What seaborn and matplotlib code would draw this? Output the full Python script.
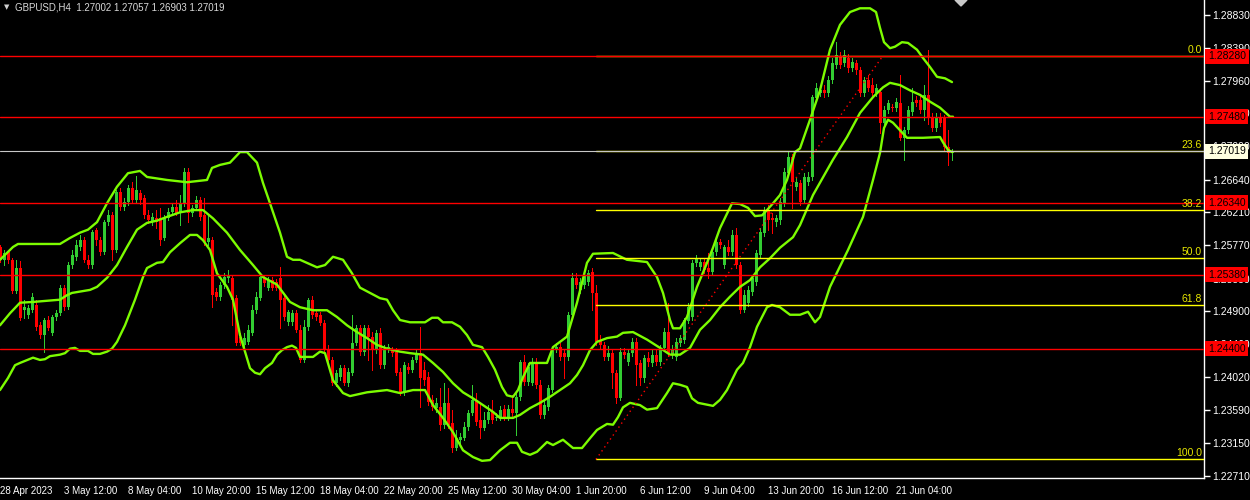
import numpy as np
import matplotlib
matplotlib.use("Agg")
import matplotlib.pyplot as plt
import matplotlib.transforms as mtransforms
from matplotlib.patches import Polygon
import seaborn as sns

# GBPUSD H4 candles (bar 0 = 28 Apr 20:00)
opens = [1.2575, 1.2558, 1.2568, 1.2558, 1.2517, 1.2547, 1.2491, 1.2485, 1.2491, 1.2498,
         1.2471, 1.2458, 1.2478, 1.2461, 1.2482, 1.2487, 1.2521, 1.2495, 1.2551, 1.2562,
         1.2575, 1.2584, 1.2558, 1.2551, 1.2598, 1.2584, 1.2568, 1.2608, 1.2617, 1.2571,
         1.2648, 1.2628, 1.2635, 1.2653, 1.2637, 1.2647, 1.2640, 1.2617, 1.2608, 1.2613,
         1.2613, 1.2587, 1.2613, 1.2621, 1.2628, 1.2620, 1.2633, 1.2675, 1.2620, 1.2627,
         1.2637, 1.2617, 1.2582, 1.2584, 1.2515, 1.2509, 1.2525, 1.2534, 1.2534, 1.2507,
         1.2456, 1.2445, 1.2449, 1.2461, 1.2491, 1.2507, 1.2534, 1.2521, 1.2531, 1.2529,
         1.2534, 1.2507, 1.2475, 1.2475, 1.2487, 1.2465, 1.2425, 1.2469, 1.2505, 1.2487,
         1.2485, 1.2474, 1.2438, 1.2425, 1.2394, 1.2402, 1.2414, 1.2394, 1.2408, 1.2448,
         1.2467, 1.2436, 1.2467, 1.2456, 1.2438, 1.2461, 1.2418, 1.2438, 1.2438, 1.2436,
         1.2409, 1.2381, 1.2416, 1.2412, 1.2425, 1.2434, 1.2412, 1.2402, 1.2372, 1.2361,
         1.2362, 1.2339, 1.2368, 1.2341, 1.2308, 1.2319, 1.2321, 1.2336, 1.2355, 1.2372,
         1.2345, 1.2335, 1.2345, 1.2356, 1.2348, 1.2349, 1.2360, 1.2348, 1.2360, 1.2355,
         1.2376, 1.2422, 1.2396, 1.2394, 1.2422, 1.2392, 1.2352, 1.2362, 1.2385, 1.2438,
         1.2442, 1.2434, 1.2429, 1.2485, 1.2534, 1.2518, 1.2525, 1.2529, 1.2542, 1.2514,
         1.2452, 1.2445, 1.2429, 1.2434, 1.2408, 1.2374, 1.2436, 1.2422, 1.2434, 1.2449,
         1.2421, 1.2401, 1.2428, 1.2421, 1.2432, 1.2422, 1.2441, 1.2462, 1.2432, 1.2429,
         1.2448, 1.2452, 1.2477, 1.2482, 1.2554, 1.2548, 1.2555, 1.2547, 1.2542, 1.2568,
         1.2582, 1.2551, 1.2575, 1.2568, 1.2591, 1.2551, 1.2491, 1.2501, 1.2515, 1.2529,
         1.2564, 1.2594, 1.2624, 1.2613, 1.2608, 1.2611, 1.2633, 1.2673, 1.2694, 1.2655,
         1.2660, 1.2637, 1.2661, 1.2668, 1.2773, 1.2780, 1.2783, 1.2780, 1.2797, 1.2817,
         1.2827, 1.2819, 1.2826, 1.2813, 1.2819, 1.2810, 1.2780, 1.2797, 1.2790, 1.2780,
         1.2781, 1.2740, 1.2757, 1.2761, 1.2760, 1.2766, 1.2720, 1.2730, 1.2754, 1.2770,
         1.2770, 1.2757, 1.2777, 1.2748, 1.2733, 1.2748, 1.2748, 1.2708, 1.27002]
highs = [1.2578, 1.2571, 1.2571, 1.2560, 1.2558, 1.2556, 1.2505, 1.2498, 1.2514, 1.2505,
         1.2475, 1.2481, 1.2483, 1.2485, 1.2491, 1.2525, 1.2525, 1.2555, 1.2571, 1.2584,
         1.2591, 1.2588, 1.2564, 1.2598, 1.2600, 1.2588, 1.2611, 1.2624, 1.2621, 1.2651,
         1.2653, 1.2640, 1.2657, 1.2661, 1.2669, 1.2651, 1.2644, 1.2624, 1.2620, 1.2624,
         1.2627, 1.2617, 1.2627, 1.2633, 1.2637, 1.2644, 1.2680, 1.2680, 1.2631, 1.2643,
         1.2641, 1.2640, 1.2617, 1.2588, 1.2521, 1.2529, 1.2540, 1.2544, 1.2538, 1.2511,
         1.2461, 1.2461, 1.2471, 1.2498, 1.2515, 1.2538, 1.2538, 1.2535, 1.2535, 1.2533,
         1.2548, 1.2511, 1.2491, 1.2491, 1.2491, 1.2471, 1.2478, 1.2507, 1.2510, 1.2491,
         1.2489, 1.2478, 1.2445, 1.2429, 1.2412, 1.2418, 1.2418, 1.2414, 1.2485, 1.2471,
         1.2471, 1.2471, 1.2471, 1.2462, 1.2465, 1.2467, 1.2445, 1.2446, 1.2442, 1.2441,
         1.2414, 1.2422, 1.2421, 1.2429, 1.2438, 1.2469, 1.2422, 1.2409, 1.2378, 1.2374,
         1.2388, 1.2394, 1.2388, 1.2359, 1.2332, 1.2328, 1.2343, 1.2359, 1.2392, 1.2381,
         1.2368, 1.2356, 1.2365, 1.2372, 1.2355, 1.2364, 1.2365, 1.2365, 1.2378, 1.2381,
         1.2425, 1.2432, 1.2421, 1.2428, 1.2428, 1.2398, 1.2372, 1.2392, 1.2442, 1.2448,
         1.2448, 1.2438, 1.2489, 1.2540, 1.2540, 1.2534, 1.2542, 1.2544, 1.2547, 1.2525,
         1.2458, 1.2449, 1.2444, 1.2438, 1.2412, 1.2441, 1.2441, 1.2438, 1.2454, 1.2454,
         1.2425, 1.2432, 1.2436, 1.2438, 1.2438, 1.2445, 1.2467, 1.2501, 1.2445, 1.2454,
         1.2458, 1.2481, 1.2501, 1.2558, 1.2564, 1.2560, 1.2560, 1.2567, 1.2574, 1.2587,
         1.2586, 1.2578, 1.2584, 1.2598, 1.2600, 1.2555, 1.2518, 1.2523, 1.2538, 1.2571,
         1.2600, 1.2628, 1.2631, 1.2620, 1.2617, 1.2640, 1.2680, 1.2701, 1.2698, 1.2667,
         1.2664, 1.2673, 1.2675, 1.2777, 1.2793, 1.2789, 1.2790, 1.2802, 1.2826, 1.2847,
         1.2834, 1.2837, 1.2831, 1.2826, 1.2823, 1.2814, 1.2801, 1.2803, 1.2799, 1.2791,
         1.2786, 1.2762, 1.2770, 1.2765, 1.2773, 1.2803, 1.2734, 1.2762, 1.2786, 1.2775,
         1.2775, 1.2790, 1.2837, 1.2753, 1.2753, 1.2753, 1.2750, 1.2730, 1.27057]
lows = [1.2555, 1.2551, 1.2554, 1.2514, 1.2514, 1.2478, 1.2481, 1.2481, 1.2489, 1.2465,
        1.2454, 1.2436, 1.2465, 1.2458, 1.2478, 1.2485, 1.2491, 1.2493, 1.2547, 1.2558,
        1.2571, 1.2555, 1.2547, 1.2547, 1.2578, 1.2564, 1.2566, 1.2604, 1.2558, 1.2568,
        1.2624, 1.2624, 1.2631, 1.2633, 1.2633, 1.2632, 1.2613, 1.2607, 1.2604, 1.2600,
        1.2578, 1.2584, 1.2611, 1.2617, 1.2617, 1.2604, 1.2629, 1.2608, 1.2616, 1.2624,
        1.2611, 1.2578, 1.2578, 1.2495, 1.2505, 1.2505, 1.2521, 1.2529, 1.2471, 1.2445,
        1.2445, 1.2441, 1.2446, 1.2458, 1.2487, 1.2505, 1.2523, 1.2518, 1.2518, 1.2518,
        1.2467, 1.2478, 1.2471, 1.2471, 1.2462, 1.2422, 1.2422, 1.2465, 1.2481, 1.2478,
        1.2471, 1.2436, 1.2422, 1.2392, 1.2390, 1.2398, 1.2392, 1.2390, 1.2405, 1.2445,
        1.2432, 1.2432, 1.2425, 1.2412, 1.2434, 1.2414, 1.2414, 1.2436, 1.2430, 1.2405,
        1.2378, 1.2378, 1.2408, 1.2409, 1.2422, 1.2362, 1.2392, 1.2365, 1.2359, 1.2356,
        1.2332, 1.2335, 1.2335, 1.2303, 1.2305, 1.2315, 1.2319, 1.2332, 1.2352, 1.2339,
        1.2321, 1.2332, 1.2341, 1.2341, 1.2345, 1.2345, 1.2345, 1.2345, 1.2351, 1.2325,
        1.2372, 1.2392, 1.2392, 1.2392, 1.2388, 1.2348, 1.2348, 1.2359, 1.2382, 1.2436,
        1.2425, 1.2401, 1.2425, 1.2481, 1.2521, 1.2514, 1.2521, 1.2525, 1.2491, 1.2445,
        1.2441, 1.2425, 1.2425, 1.2388, 1.2368, 1.2372, 1.2428, 1.2418, 1.2430, 1.2392,
        1.2392, 1.2396, 1.2417, 1.2417, 1.2418, 1.2418, 1.2438, 1.2430, 1.2428, 1.2425,
        1.2444, 1.2448, 1.2474, 1.2478, 1.2550, 1.2544, 1.2540, 1.2534, 1.2538, 1.2564,
        1.2574, 1.2547, 1.2564, 1.2564, 1.2547, 1.2487, 1.2489, 1.2497, 1.2511, 1.2525,
        1.2560, 1.2590, 1.2598, 1.2594, 1.2603, 1.2606, 1.2629, 1.2669, 1.2627, 1.2651,
        1.2631, 1.2633, 1.2657, 1.2664, 1.2770, 1.2775, 1.2774, 1.2775, 1.2793, 1.2813,
        1.2813, 1.2815, 1.2807, 1.2809, 1.2805, 1.2775, 1.2775, 1.2782, 1.2775, 1.2775,
        1.2726, 1.2736, 1.2753, 1.2756, 1.2756, 1.2717, 1.2691, 1.2726, 1.2750, 1.2762,
        1.2753, 1.2744, 1.2738, 1.2729, 1.2729, 1.2736, 1.2704, 1.2684, 1.26903]
closes = [1.2558, 1.2567, 1.2558, 1.2517, 1.2547, 1.2481, 1.2495, 1.2494, 1.2509, 1.2469,
          1.2458, 1.2478, 1.2467, 1.2482, 1.2487, 1.2521, 1.2495, 1.2551, 1.2564, 1.2578,
          1.2584, 1.2558, 1.2551, 1.2595, 1.2584, 1.2568, 1.2608, 1.2617, 1.2571, 1.2648,
          1.2628, 1.2635, 1.2653, 1.2637, 1.2651, 1.2637, 1.2617, 1.2611, 1.2615, 1.2608,
          1.2584, 1.2613, 1.2621, 1.2628, 1.2620, 1.2633, 1.2675, 1.2620, 1.2627, 1.2637,
          1.2615, 1.2582, 1.2587, 1.2511, 1.2509, 1.2525, 1.2535, 1.2538, 1.2505, 1.2448,
          1.2448, 1.2454, 1.2465, 1.2491, 1.2509, 1.2535, 1.2527, 1.2531, 1.2521, 1.2521,
          1.2505, 1.2482, 1.2489, 1.2487, 1.2465, 1.2425, 1.2469, 1.2505, 1.2485, 1.2482,
          1.2474, 1.2438, 1.2425, 1.2394, 1.2408, 1.2414, 1.2394, 1.2409, 1.2448, 1.2467,
          1.2436, 1.2467, 1.2456, 1.2438, 1.2461, 1.2418, 1.2438, 1.2442, 1.2434, 1.2408,
          1.2381, 1.2418, 1.2412, 1.2425, 1.2434, 1.2401, 1.2398, 1.2369, 1.2362, 1.2368,
          1.2339, 1.2368, 1.2339, 1.2308, 1.2321, 1.2323, 1.2336, 1.2355, 1.2372, 1.2343,
          1.2335, 1.2345, 1.2356, 1.2345, 1.2349, 1.2359, 1.2349, 1.2360, 1.2355, 1.2376,
          1.2422, 1.2396, 1.2416, 1.2422, 1.2392, 1.2352, 1.2365, 1.2388, 1.2438, 1.2442,
          1.2429, 1.2429, 1.2485, 1.2534, 1.2525, 1.2529, 1.2538, 1.2540, 1.2514, 1.2449,
          1.2445, 1.2429, 1.2434, 1.2408, 1.2374, 1.2436, 1.2432, 1.2434, 1.2449, 1.2418,
          1.2401, 1.2428, 1.2422, 1.2432, 1.2422, 1.2441, 1.2462, 1.2434, 1.2438, 1.2449,
          1.2454, 1.2478, 1.2495, 1.2554, 1.2560, 1.2555, 1.2544, 1.2542, 1.2568, 1.2582,
          1.2578, 1.2575, 1.2568, 1.2591, 1.2551, 1.2491, 1.2511, 1.2518, 1.2534, 1.2567,
          1.2595, 1.2624, 1.2611, 1.2611, 1.2613, 1.2635, 1.2675, 1.2694, 1.2661, 1.2661,
          1.2635, 1.2668, 1.2668, 1.2774, 1.2786, 1.2783, 1.2780, 1.2797, 1.2819, 1.2830,
          1.2817, 1.2830, 1.2813, 1.2821, 1.2810, 1.2780, 1.2797, 1.2786, 1.2780, 1.2786,
          1.2740, 1.2757, 1.2766, 1.2760, 1.2768, 1.2720, 1.2730, 1.2757, 1.2768, 1.2766,
          1.2757, 1.2777, 1.2748, 1.2733, 1.2748, 1.2740, 1.2708, 1.2700, 1.27019]

# Bollinger bands as (bar, price)
bb_upper = [(0, 1.2558), (3.25, 1.2575), (4.5, 1.2579), (15, 1.2579), (17.5, 1.2587), (20, 1.2594),
            (22, 1.2598), (24.25, 1.2608), (26.75, 1.2633), (29.25, 1.2655), (32, 1.2673), (35, 1.2676),
            (36.75, 1.2668), (41.75, 1.2664), (46.75, 1.2661), (51.75, 1.2664), (53, 1.2680), (55, 1.2684),
            (57.5, 1.2687), (60, 1.2701), (61.75, 1.2701), (64.25, 1.2687), (65.75, 1.2660), (67.5, 1.2633),
            (70, 1.2594), (71.75, 1.2562), (73.25, 1.2558), (75, 1.2558), (79.25, 1.2548), (81.25, 1.2551),
            (83.25, 1.2562), (85.75, 1.2558), (88, 1.2540), (90, 1.2521), (92.5, 1.2514), (95, 1.2507),
            (96.75, 1.2505), (98.25, 1.2491), (100, 1.2478), (102.5, 1.2475), (106.25, 1.2475), (108, 1.2481),
            (109.5, 1.2481), (110.75, 1.2475), (113, 1.2475), (115, 1.2469), (116.75, 1.2458), (118.25, 1.2445),
            (120.5, 1.2442), (122, 1.2429), (123.75, 1.2412), (125.5, 1.2389), (126.75, 1.2378), (128.25, 1.2376),
            (129.5, 1.2385), (130.75, 1.2402), (132.5, 1.2421), (136.75, 1.2421), (138.25, 1.2442), (141.75, 1.2456),
            (144.25, 1.2501), (146.75, 1.2554), (148.25, 1.2566), (153.25, 1.2567), (156.75, 1.2558), (161.75, 1.2555),
            (164.25, 1.2535), (165.75, 1.2514), (167.5, 1.2478), (168.25, 1.2467), (170, 1.2467), (171.75, 1.2482),
            (174.25, 1.2522), (176.75, 1.2554), (178.25, 1.2574), (180, 1.2600), (183, 1.2633), (185, 1.2632),
            (187, 1.2627), (188.75, 1.2616), (190.5, 1.2617), (191.75, 1.2624), (193.25, 1.2633), (195, 1.2644),
            (196.75, 1.2664), (198.75, 1.2701), (200, 1.2706), (202.5, 1.2744), (205, 1.2783), (207.5, 1.2837),
            (210, 1.2870), (212.5, 1.2887), (215, 1.2892), (217.5, 1.2892), (219, 1.2887), (220, 1.2866),
            (221, 1.2847), (222.5, 1.2839), (223.75, 1.2841), (225.5, 1.2847), (227, 1.2846), (229.25, 1.2837),
            (230.75, 1.2826), (232.5, 1.2814), (234.25, 1.2801), (236.25, 1.2799), (238, 1.2794)]
bb_middle = [(0, 1.2471), (2.5, 1.2487), (5, 1.2501), (8.25, 1.2502), (15, 1.2505), (16.75, 1.2511),
             (18, 1.2514), (22.5, 1.2518), (24.25, 1.2522), (26.75, 1.2534), (29.25, 1.2551), (31.75, 1.2575),
             (34.25, 1.2598), (36.75, 1.2607), (39.25, 1.2610), (41.75, 1.2615), (45, 1.2621), (48.25, 1.2624),
             (50.75, 1.2624), (53.25, 1.2613), (56.75, 1.2594), (60, 1.2571), (63.25, 1.2551), (65.75, 1.2535),
             (69.25, 1.2525), (72.5, 1.2502), (75, 1.2495), (78.25, 1.2491), (81.75, 1.2491), (84.25, 1.2482),
             (86.75, 1.2471), (89.25, 1.2462), (91.75, 1.2454), (94.25, 1.2445), (96.75, 1.2440), (100, 1.2436),
             (102.5, 1.2434), (105.75, 1.2432), (108.25, 1.2421), (110.75, 1.2409), (113.25, 1.2394), (115.75, 1.2382),
             (118.25, 1.2374), (120.75, 1.2365), (123.25, 1.2356), (125, 1.2348), (128.25, 1.2348), (130, 1.2352),
             (132.5, 1.2361), (135, 1.2368), (137.5, 1.2376), (140, 1.2385), (142.5, 1.2394), (144.25, 1.2405),
             (145.75, 1.2418), (147.5, 1.2438), (149.25, 1.2449), (151.75, 1.2454), (154.25, 1.2456), (155.75, 1.2461),
             (158.25, 1.2462), (161.75, 1.2452), (165, 1.2441), (167.5, 1.2432), (170, 1.2432), (172.5, 1.2441),
             (175, 1.2465), (177.5, 1.2478), (180, 1.2495), (182.5, 1.2509), (185, 1.2522), (187.5, 1.2531),
             (190, 1.2548), (192.5, 1.2560), (195, 1.2574), (198.25, 1.2588), (200, 1.2604), (203.25, 1.2644),
             (208.25, 1.2691), (211.75, 1.2721), (215, 1.2753), (218.25, 1.2774), (220.75, 1.2787), (222.5, 1.2793),
             (225, 1.2790), (227.5, 1.2783), (230, 1.2777), (232.5, 1.2768), (235, 1.2760), (237.5, 1.2748),
             (238.25, 1.2748)]
bb_lower = [(0, 1.2385), (2, 1.2401), (3.75, 1.2418), (5, 1.2421), (8.25, 1.2428), (10, 1.2425),
            (11.25, 1.2426), (12.5, 1.2430), (15, 1.2432), (16.25, 1.2434), (17.5, 1.2440), (18.75, 1.2441),
            (20, 1.2437), (22, 1.2437), (23.25, 1.2433), (25, 1.2433), (26.75, 1.2436), (28, 1.2440),
            (29.25, 1.2449), (31.25, 1.2471), (33.75, 1.2505), (35.75, 1.2535), (36.75, 1.2547), (39.25, 1.2554),
            (40.75, 1.2555), (42.5, 1.2568), (45, 1.2580), (47.5, 1.2591), (49.25, 1.2591), (50.75, 1.2584),
            (52.5, 1.2571), (54.25, 1.2540), (56.75, 1.2522), (58.25, 1.2505), (60, 1.2458), (61.25, 1.2436),
            (62.5, 1.2414), (63.75, 1.2408), (65, 1.2406), (66.25, 1.2414), (68, 1.2421), (69.25, 1.2432),
            (70.5, 1.2438), (71.75, 1.2442), (73, 1.2444), (74, 1.2441), (75, 1.2429), (78.25, 1.2429),
            (80, 1.2436), (81.25, 1.2434), (83.25, 1.2398), (85.75, 1.2381), (87.5, 1.2377), (91.75, 1.2382),
            (96.75, 1.2385), (100, 1.2381), (103.25, 1.2385), (106.25, 1.2385), (108.25, 1.2365), (110.75, 1.2348),
            (113.25, 1.2329), (115.75, 1.2305), (118.25, 1.2296), (120.5, 1.2291), (122.5, 1.2292), (125, 1.2305),
            (127.5, 1.2315), (129.25, 1.2315), (130.5, 1.2303), (132.5, 1.2299), (134.25, 1.2303), (136.75, 1.2316),
            (138.25, 1.2312), (140.75, 1.2319), (143.25, 1.2308), (145.5, 1.2308), (147.5, 1.2321), (149.25, 1.2332),
            (151.75, 1.2340), (153.25, 1.2339), (154.5, 1.2349), (155.75, 1.2362), (157.5, 1.2368), (160, 1.2365),
            (161.75, 1.2359), (164.25, 1.2361), (166.75, 1.2381), (168.25, 1.2394), (170, 1.2392), (171.75, 1.2389),
            (173, 1.2374), (174.5, 1.2368), (178.25, 1.2364), (180, 1.2372), (181.75, 1.2385), (184.25, 1.2412),
            (185.75, 1.2421), (187.5, 1.2442), (189.25, 1.2469), (191.75, 1.2495), (193, 1.2498), (195, 1.2495),
            (197.5, 1.2485), (200, 1.2485), (202, 1.2489), (203.75, 1.2475), (205, 1.2482), (206.25, 1.2502),
            (207.5, 1.2522), (212, 1.2571), (215.75, 1.2615), (218.25, 1.2664), (220, 1.2700), (221, 1.2733),
            (222, 1.2744), (223.25, 1.2740), (225, 1.2730), (226.75, 1.2720), (230.75, 1.2720), (235, 1.2721),
            (235.75, 1.2714), (237, 1.2704), (238, 1.2701)]

# horizontal levels and fibonacci retracement
red_levels = [1.28280, 1.27480, 1.26340, 1.25380, 1.24400]
bid = 1.27019
fib_start, fib_end = 149, 220.75
fib_low, fib_high = 1.2293, 1.2829
fib_levels = [0.0, 23.6, 38.2, 50.0, 61.8, 100.0]

price_ticks = [1.28830, 1.28390, 1.27960, 1.27530, 1.27090, 1.26640, 1.26210, 1.25770,
               1.25330, 1.24900, 1.24460, 1.24020, 1.23590, 1.23150, 1.22710]
time_ticks = [0, 16, 32, 48, 64, 80, 96, 112, 128, 144, 160, 176, 192, 208, 224]
time_labels = ["28 Apr 2023", "3 May 12:00", "8 May 04:00", "10 May 20:00", "15 May 12:00",
               "18 May 04:00", "22 May 20:00", "25 May 12:00", "30 May 04:00", "1 Jun 20:00",
               "6 Jun 12:00", "9 Jun 04:00", "13 Jun 20:00", "16 Jun 12:00", "21 Jun 04:00"]
header = "GBPUSD,H4  1.27002 1.27057 1.26903 1.27019"

sns.set_theme(style="dark")
plt.rcParams['font.family'] = ['Liberation Sans', 'DejaVu Sans']

fig = plt.figure(figsize=(12.5, 5), dpi=100, facecolor='black')
ax = fig.add_axes([0, 22 / 500, 1204 / 1250, 478 / 500])
ax.set_facecolor('black')
ax.grid(False)

# candles
t = np.arange(len(closes))
o = np.array(opens)
c = np.array(closes)
up = c >= o
cols = np.where(up, '#32cd32', '#ff0000')
ax.vlines(t, lows, highs, colors=cols, linewidth=0.72, zorder=2, antialiased=False)
body = np.maximum(np.abs(c - o), 0.00012)
ax.bar(t, body, bottom=np.minimum(o, c), width=0.75, color=cols, linewidth=0,
       zorder=2, antialiased=False)

# bollinger bands
for band in (bb_upper, bb_middle, bb_lower):
    bx, by = zip(*band)
    sns.lineplot(x=list(bx), y=list(by), ax=ax, color='#7cfc00', linewidth=1.7,
                 sort=False, zorder=3)

# fibonacci lines + labels
trans = mtransforms.blended_transform_factory(ax.transAxes, ax.transData)
lab_trans = mtransforms.offset_copy(trans, fig=fig, x=-2, y=1, units='dots')
for lv in fib_levels:
    p = fib_high - lv / 100 * (fib_high - fib_low)
    ax.plot([fib_start, 301], [p, p], color='#ffff00', linewidth=1.0, zorder=4)
    ax.text(1.0, p, f"{lv:.1f}", transform=lab_trans, ha='right', va='bottom',
            color='#e8e800', fontsize=7.5, zorder=6)

# trend line of the fibo
ax.plot([fib_start, fib_end], [fib_low, fib_high], color='#ff0000', linewidth=1.0,
        linestyle=(0, (1, 2.5)), zorder=4)

# red horizontal levels
for lv in red_levels:
    ax.axhline(lv, color='#ff0000', linewidth=1.0, zorder=4)
ax.axhline(bid, color='#c8c8c8', linewidth=0.8, zorder=5)

box_trans = mtransforms.offset_copy(trans, fig=fig, x=4, y=0, units='dots')
for lv in red_levels:
    ax.text(1.0, lv, f"{lv:.5f}", transform=box_trans, ha='left', va='center', color='black',
            fontsize=7.5, clip_on=False, zorder=10,
            bbox=dict(boxstyle='square,pad=0.25', fc='#ff0000', ec='none'))
ax.text(1.0, bid, f"{bid:.5f}", transform=box_trans, ha='left', va='center', color='black',
        fontsize=7.5, clip_on=False, zorder=10,
        bbox=dict(boxstyle='square,pad=0.25', fc='#ffffe0', ec='none'))

# axes
ax.set_xlim(0, 301)
ax.set_ylim(1.22682, 1.29030)
ax.yaxis.tick_right()
ax.set_yticks(price_ticks)
ax.set_yticklabels([f"{p:.5f}" for p in price_ticks])
ax.set_xticks(time_ticks)
ax.set_xticklabels(time_labels, ha='left')
ax.tick_params(axis='y', colors='white', length=4, width=1, labelsize=7.5, pad=2)
ax.tick_params(axis='x', colors='white', length=4, width=1, labelsize=7, pad=2)
ax.set_xlabel('')
ax.set_ylabel('')
for s in ['top', 'left']:
    ax.spines[s].set_visible(False)
for s in ['right', 'bottom']:
    ax.spines[s].set_color('white')
    ax.spines[s].set_linewidth(1)

# header and shift marker
fig.text(4 / 1250, 1 - 7 / 500, "\u25bc", color='#d0d0d0', fontsize=5, va='center',
         ha='left', family=['DejaVu Sans'])
fig.text(15 / 1250, 1 - 7 / 500, header, color='#d8d8d8', fontsize=7, va='center', ha='left')
fig.add_artist(Polygon([[955 / 1250, 1], [967 / 1250, 1], [961 / 1250, 1 - 6 / 500]],
                       closed=True, transform=fig.transFigure, color='#c8c8c8'))

fig.savefig('out.png', dpi=100, facecolor=fig.get_facecolor())
